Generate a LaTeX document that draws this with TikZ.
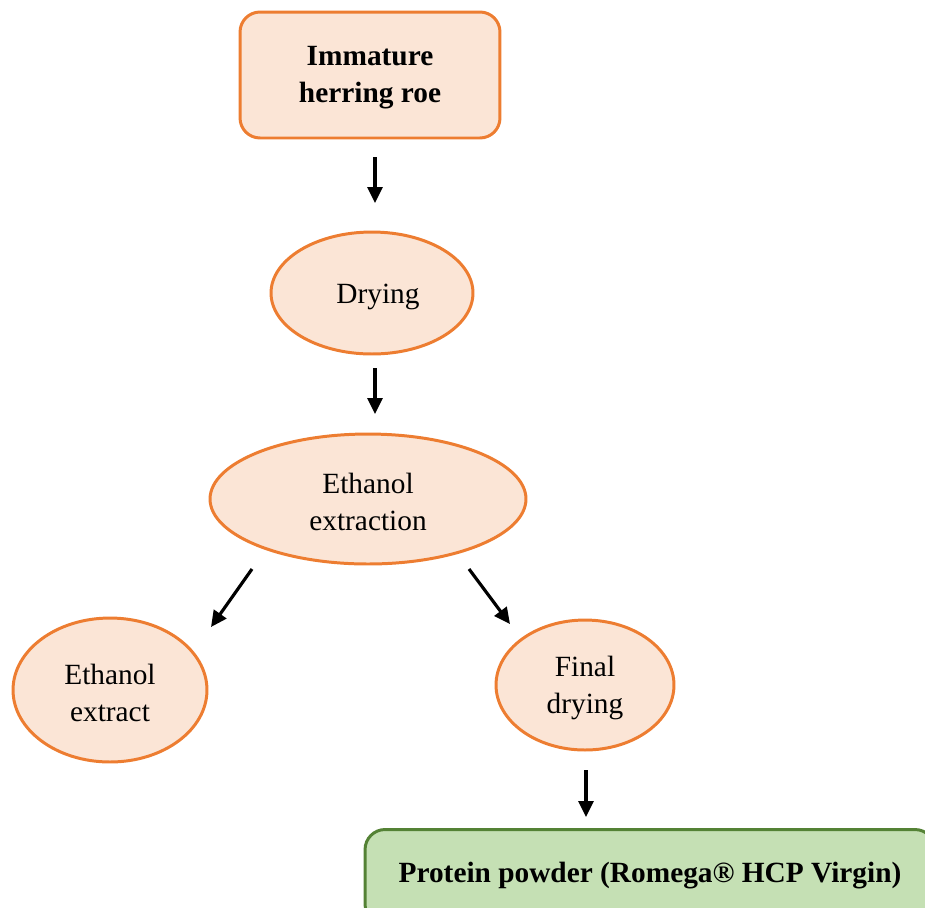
\documentclass[tikz,border=0pt]{standalone}
\usepackage{fontspec}
\setmainfont{Liberation Serif}
\usetikzlibrary{arrows.meta,shapes.geometric}
\definecolor{peach}{HTML}{FBE5D6}
\definecolor{orangeline}{HTML}{ED7D31}
\definecolor{greenfill}{HTML}{C5E0B4}
\definecolor{greenline}{HTML}{548235}
\tikzset{
  px/.style={x=0.02cm,y=-0.02cm},
  txt/.style={font=\fontsize{16.7}{21}\selectfont, align=center},
  rbox/.style={draw=orangeline, fill=peach, line width=1.7pt, rounded corners=0.4cm},
  oval/.style={ellipse, draw=orangeline, fill=peach, line width=1.7pt, inner sep=0pt},
  gbox/.style={draw=greenline, fill=greenfill, line width=1.7pt, rounded corners=0.4cm},
  arr/.style={line width=1.8pt, -{Triangle[length=0.32cm,width=0.3cm]}}
}
\begin{document}
\begin{tikzpicture}[px]
\useasboundingbox (0,0) rectangle (925,907);
\clip (0,0) rectangle (925,907);
\node[rbox, minimum width=5.2cm, minimum height=2.52cm] (roe) at (370,75) {};
\node[txt] (roetxt) at (370,78) {\textbf{Immature}\\\textbf{herring roe}};
\node[oval, minimum width=4.04cm, minimum height=2.44cm] (dry) at (372,293) {};
\node[txt] (drytxt) at (378,297) {Drying};
\node[oval, minimum width=6.32cm, minimum height=2.6cm] (eth) at (368,499) {};
\node[txt] (ethtxt) at (368,502) {Ethanol\\extraction};
\node[oval, minimum width=3.88cm, minimum height=2.88cm] (ext) at (110,690) {};
\node[txt] (exttxt) at (110,693) {Ethanol\\extract};
\node[oval, minimum width=3.56cm, minimum height=2.6cm] (fin) at (585,685) {};
\node[txt] (fintxt) at (585,688) {Final\\drying};
\node[gbox, minimum width=11.4cm, minimum height=1.9cm] (prot) at (650,877) {};
\node[txt] (prottxt) at (650,876) {\textbf{Protein powder (Romega® HCP Virgin)}};
\coordinate (a1s) at (375,157); \coordinate (a1e) at (375,203);
\coordinate (a2s) at (375,368); \coordinate (a2e) at (375,414);
\coordinate (a3s) at (252,569); \coordinate (a3e) at (211,627);
\coordinate (a4s) at (469,569); \coordinate (a4e) at (510,624);
\coordinate (a5s) at (586,770); \coordinate (a5e) at (586,817);
\draw[arr] (a1s) -- (a1e);
\draw[arr] (a2s) -- (a2e);
\draw[arr] (a3s) -- (a3e);
\draw[arr] (a4s) -- (a4e);
\draw[arr] (a5s) -- (a5e);
\end{tikzpicture}
\end{document}
